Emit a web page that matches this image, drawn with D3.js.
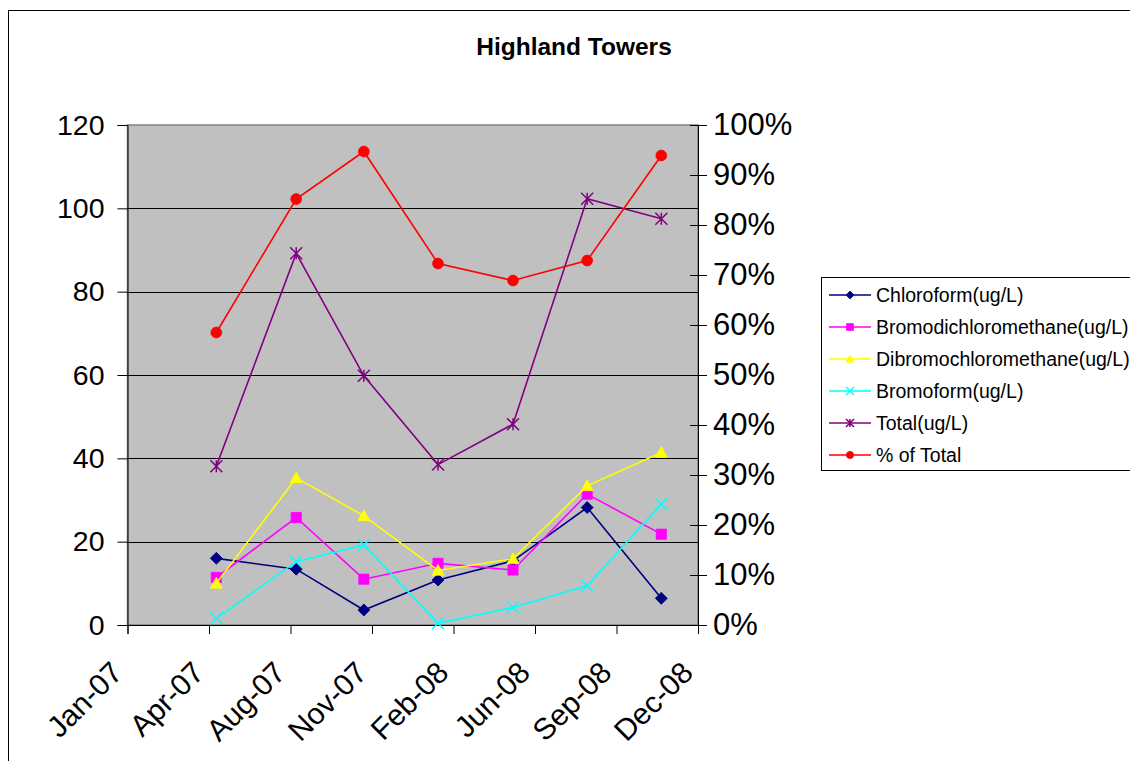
<!DOCTYPE html>
<html>
<head>
<meta charset="utf-8">
<script src="https://cdn.jsdelivr.net/npm/d3@7/dist/d3.min.js"></script>
<style>
  html, body { margin: 0; padding: 0; background: #ffffff; }
  svg { display: block; font-family: "Liberation Sans", Arial, sans-serif; }
</style>
</head>
<body>
<svg id="chart" width="1130" height="761"></svg>
<script>
// Sampling dates (quarterly) and measured concentrations
const sampleDates = ["2007-05-08", "2007-08-14", "2007-11-05", "2008-02-04", "2008-05-06", "2008-08-05", "2008-11-04"];
const chloroform = [16.0, 13.4, 3.6, 10.8, 15.4, 28.2, 6.4];
const bromodichloromethane = [11.4, 25.8, 11.0, 14.8, 13.2, 31.4, 21.8];
const dibromochloromethane = [10.0, 35.3, 26.2, 13.1, 15.9, 33.4, 41.4];
const bromoform = [1.6, 15.2, 19.2, 0.4, 4.2, 9.4, 29.0];
const total = [38.1, 89.2, 59.8, 38.5, 48.2, 102.3, 97.5];
const percentOfTotal = [0.585, 0.852, 0.947, 0.723, 0.689, 0.729, 0.939];

// Date axis: 100-day major unit
const axisStart = "2007-01-19";
const axisEnd = "2008-12-19";
const xTickDates = ["2007-01-19", "2007-04-29", "2007-08-07", "2007-11-15", "2008-02-23", "2008-06-02", "2008-09-10", "2008-12-19"];
const leftTicks = [0, 20, 40, 60, 80, 100, 120];
const rightTicks = [0, 0.1, 0.2, 0.3, 0.4, 0.5, 0.6, 0.7, 0.8, 0.9, 1.0];

const seriesNames = ["Chloroform(ug/L)", "Bromodichloromethane(ug/L)", "Dibromochloromethane(ug/L)", "Bromoform(ug/L)", "Total(ug/L)", "% of Total"];
const seriesColors = ["#000080", "#FF00FF", "#FFFF00", "#00FFFF", "#800080", "#FF0000"];
const seriesMarkers = ["diamond", "square", "triangle", "cross", "star", "circle"];

const parse = d3.utcParse("%Y-%m-%d");
const svg = d3.select("#chart");

// Outer chart frame
svg.append("rect")
  .attr("x", 8.5).attr("y", 10.5).attr("width", 1200).attr("height", 800)
  .attr("fill", "#ffffff").attr("stroke", "#000000").attr("stroke-width", 1);

svg.append("text")
  .attr("x", 574).attr("y", 55)
  .attr("text-anchor", "middle")
  .attr("font-size", 24.5).attr("font-weight", "bold")
  .text("Highland Towers");

const plot = { left: 127.5, right: 698, top: 125, bottom: 625 };

const x = d3.scaleUtc()
  .domain([parse(axisStart), parse(axisEnd)])
  .range([plot.left, plot.right]);
const yLeft = d3.scaleLinear().domain([0, 120]).range([plot.bottom, plot.top]);
const yRight = d3.scaleLinear().domain([0, 1]).range([plot.bottom, plot.top]);

// Plot area
svg.append("rect")
  .attr("x", plot.left).attr("y", plot.top)
  .attr("width", plot.right - plot.left).attr("height", plot.bottom - plot.top)
  .attr("fill", "#C0C0C0").attr("stroke", "#808080").attr("stroke-width", 1.5);

// Horizontal gridlines
svg.append("g")
  .selectAll("line")
  .data(leftTicks.filter(v => v > 0 && v < 120))
  .join("line")
  .attr("x1", plot.left).attr("x2", plot.right)
  .attr("y1", d => Math.round(yLeft(d)) + 0.5).attr("y2", d => Math.round(yLeft(d)) + 0.5)
  .attr("stroke", "#000000").attr("stroke-width", 1);

// Left value axis
const gLeft = svg.append("g")
  .attr("transform", `translate(${plot.left},0)`)
  .call(d3.axisLeft(yLeft).tickValues(leftTicks).tickSize(10).tickPadding(13).tickFormat(d3.format("d")));
gLeft.select(".domain").attr("stroke", "#000000");
gLeft.selectAll("text").attr("font-size", 28.5).attr("font-family", "Liberation Sans, Arial, sans-serif").attr("fill", "#000");

// Right percentage axis (cross ticks)
const gRight = svg.append("g")
  .attr("transform", `translate(${plot.right},0)`)
  .call(d3.axisRight(yRight).tickValues(rightTicks).tickSize(9).tickPadding(6).tickFormat(d3.format(".0%")));
gRight.select(".domain").attr("stroke", "#000000");
gRight.selectAll(".tick line").attr("x1", -8);
gRight.selectAll("text").attr("font-size", 31).attr("font-family", "Liberation Sans, Arial, sans-serif").attr("fill", "#000");

// Date axis
const gX = svg.append("g")
  .attr("transform", `translate(0,${plot.bottom})`)
  .call(d3.axisBottom(x).tickValues(xTickDates.map(parse)).tickSize(9).tickFormat(d3.utcFormat("%b-%y")));
gX.select(".domain").attr("stroke", "#000000");
gX.selectAll("text")
  .attr("font-size", 30).attr("font-family", "Liberation Sans, Arial, sans-serif").attr("fill", "#000")
  .attr("text-anchor", "end")
  .attr("dy", "0.35em")
  .attr("transform", "translate(-11,42) rotate(-45)")
  .attr("x", 0).attr("y", 0);

// Marker shapes
function markerPath(kind, s) {
  const h = s / 2;
  switch (kind) {
    case "diamond": return `M0,${-h}L${h},0L0,${h}L${-h},0Z`;
    case "square": { const q = h * 0.85; return `M${-q},${-q}H${q}V${q}H${-q}Z`; }
    case "triangle": return `M0,${-h}L${h},${h * 0.8}L${-h},${h * 0.8}Z`;
    case "cross": return `M${-h},${-h}L${h},${h}M${-h},${h}L${h},${-h}`;
    case "star": return `M${-h},${-h}L${h},${h}M${-h},${h}L${h},${-h}M0,${-h}V${h}`;
    case "circle": { const r = h * 0.9; return `M${r},0A${r},${r} 0 1,1 ${-r},0A${r},${r} 0 1,1 ${r},0Z`; }
  }
}
const strokeMarkers = new Set(["cross", "star"]);

const dates = sampleDates.map(parse);
const series = [
  { values: chloroform, scale: yLeft },
  { values: bromodichloromethane, scale: yLeft },
  { values: dibromochloromethane, scale: yLeft },
  { values: bromoform, scale: yLeft },
  { values: total, scale: yLeft },
  { values: percentOfTotal, scale: yRight }
];

const linesG = svg.append("g");
series.forEach((s, i) => {
  const pts = s.values.map((v, j) => [x(dates[j]), s.scale(v)]);
  const g = linesG.append("g");
  g.append("path")
    .attr("d", d3.line()(pts))
    .attr("fill", "none").attr("stroke", seriesColors[i]).attr("stroke-width", 1.6);
  const kind = seriesMarkers[i];
  g.selectAll("path.m")
    .data(pts)
    .join("path").attr("class", "m")
    .attr("transform", d => `translate(${d[0]},${d[1]})`)
    .attr("d", markerPath(kind, 12))
    .attr("fill", strokeMarkers.has(kind) ? "none" : seriesColors[i])
    .attr("stroke", seriesColors[i])
    .attr("stroke-width", strokeMarkers.has(kind) ? 1.5 : 0.8);
});

// Legend
const legend = svg.append("g");
legend.append("rect")
  .attr("x", 821.5).attr("y", 277.5).attr("width", 330).attr("height", 193)
  .attr("fill", "#ffffff").attr("stroke", "#000000").attr("stroke-width", 1);
seriesNames.forEach((name, i) => {
  const cy = 295 + i * 32;
  const kind = seriesMarkers[i];
  legend.append("line")
    .attr("x1", 829).attr("x2", 871).attr("y1", cy).attr("y2", cy)
    .attr("stroke", seriesColors[i]).attr("stroke-width", 1.5);
  legend.append("path")
    .attr("transform", `translate(850,${cy})`)
    .attr("d", markerPath(kind, 8))
    .attr("fill", strokeMarkers.has(kind) ? "none" : seriesColors[i])
    .attr("stroke", seriesColors[i])
    .attr("stroke-width", strokeMarkers.has(kind) ? 1.5 : 0.8);
  legend.append("text")
    .attr("x", 876).attr("y", cy).attr("dy", "0.35em")
    .attr("font-size", 19.5)
    .text(name);
});
</script>
</body>
</html>
